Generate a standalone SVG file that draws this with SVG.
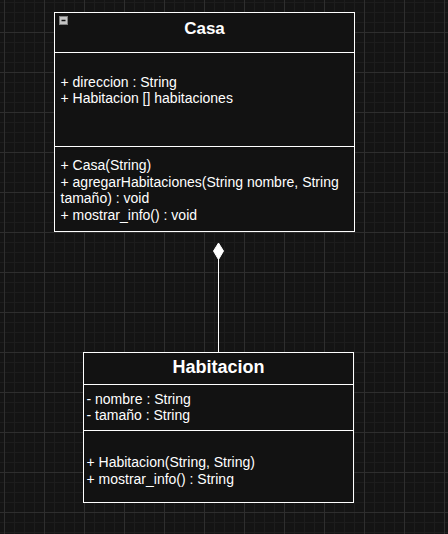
<svg xmlns="http://www.w3.org/2000/svg" width="448" height="534" viewBox="0 0 448 534">
<defs>
<pattern id="minor" patternUnits="userSpaceOnUse" x="4" y="2" width="10" height="10">
<path d="M0 0.5H10M0.5 0V10" fill="none" stroke="#1d1d1d" stroke-width="1"/>
</pattern>
<pattern id="major" patternUnits="userSpaceOnUse" x="4" y="32" width="40" height="40">
<path d="M0 0.5H40M0.5 0V40" fill="none" stroke="#2e2e2e" stroke-width="1"/>
</pattern>
<style>
.box{fill:#121212;stroke:#ffffff;stroke-width:1}
.sep{stroke:#ffffff;stroke-width:1;fill:none}
.t{font-family:"Liberation Sans",Arial,sans-serif;font-size:14px;fill:#ffffff}
.h{font-family:"Liberation Sans",Arial,sans-serif;font-weight:bold;fill:#ffffff;text-anchor:middle}
</style>
</defs>
<rect width="448" height="534" fill="#141414"/>
<rect width="448" height="534" fill="url(#minor)"/>
<rect width="448" height="534" fill="url(#major)"/>

<g id="connectors">
<line x1="218.5" y1="259" x2="218.5" y2="352" stroke="#ffffff" stroke-width="1"/>
<polygon points="218.5,243 223.5,251 218.5,259.5 213.5,251" fill="#ffffff" stroke="#ffffff" stroke-width="1"/>
</g>

<g id="Casa">
<rect class="box" x="54.5" y="12.5" width="300" height="219"/>
<line class="sep" x1="54.5" y1="52.5" x2="354.5" y2="52.5"/>
<line class="sep" x1="54.5" y1="146.5" x2="354.5" y2="146.5"/>
<rect x="59.5" y="16.5" width="8" height="8" fill="#c4c4c4" stroke="#808080" stroke-width="1"/>
<line x1="61.5" y1="20.5" x2="65.5" y2="20.5" stroke="#111111" stroke-width="1.5"/>
<text class="h" x="204.5" y="33.5" font-size="17">Casa</text>
<text class="t" x="60.5" y="86.5">+ direccion : String</text>
<text class="t" x="60.5" y="103.3">+ Habitacion [] habitaciones</text>
<text class="t" x="60.5" y="169.8">+ Casa(String)</text>
<text class="t" x="60.5" y="186.6">+ agregarHabitaciones(String nombre, String</text>
<text class="t" x="60.5" y="203.4">tamaño) : void</text>
<text class="t" x="60.5" y="220.2">+ mostrar_info() : void</text>
</g>

<g id="Habitacion">
<rect class="box" x="83.5" y="352.5" width="270" height="150"/>
<line class="sep" x1="83.5" y1="384.5" x2="353.5" y2="384.5"/>
<line class="sep" x1="83.5" y1="430.5" x2="353.5" y2="430.5"/>
<text class="h" x="218.5" y="372.5" font-size="18">Habitacion</text>
<text class="t" x="86.5" y="404">- nombre : String</text>
<text class="t" x="86.5" y="420">- tamaño : String</text>
<text class="t" x="86.5" y="467.3">+ Habitacion(String, String)</text>
<text class="t" x="86.5" y="484">+ mostrar_info() : String</text>
</g>
</svg>
